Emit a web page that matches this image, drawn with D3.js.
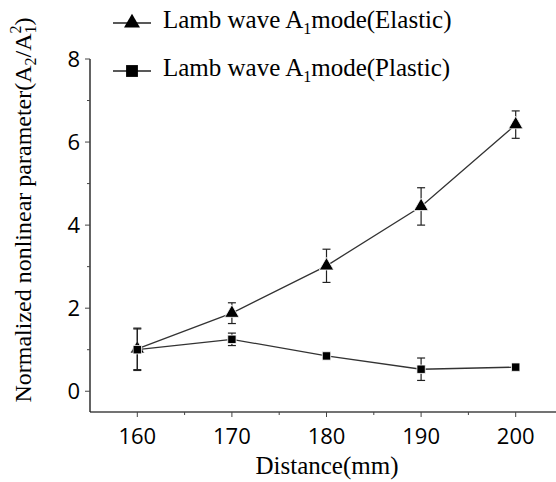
<!DOCTYPE html>
<html>
<head>
<meta charset="utf-8">
<script src="https://cdn.jsdelivr.net/npm/d3@7"></script>
<style>
  body { margin: 0; background: #fff; }
  svg { display: block; }
</style>
</head>
<body>
<svg id="vis" width="556" height="482"></svg>
<script>
const distances = [160, 170, 180, 190, 200];
const elastic = [1.02, 1.88, 3.02, 4.45, 6.42];
const elasticErr = [0.5, 0.25, 0.4, 0.45, 0.33];
const plastic = [1.0, 1.25, 0.85, 0.53, 0.58];
const plasticErr = [0.5, 0.15, 0.05, 0.27, 0.08];
const yTicks = [0, 2, 4, 6, 8];
const xTicks = [160, 170, 180, 190, 200];

const svg = d3.select('#vis');
const serif = '"Liberation Serif", "Times New Roman", serif';
const sans = '"Open Sans", "Liberation Sans", sans-serif';

const x = d3.scaleLinear().domain([155, 205]).range([90, 563]);
const y = d3.scaleLinear().domain([-0.5, 8]).range([412, 59]);

// axes
const xAxis = svg.append('g').attr('transform', 'translate(0,412)');
xAxis.append('line').attr('x1', 90).attr('x2', 556).attr('stroke', '#444').attr('stroke-width', 1.5);
xAxis.selectAll('.minor').data([165, 175, 185, 195]).enter().append('line')
    .attr('x1', d => x(d)).attr('x2', d => x(d)).attr('y1', 0).attr('y2', 3)
    .attr('stroke', '#444');
xAxis.selectAll('.major').data(xTicks).enter().append('line')
    .attr('x1', d => x(d)).attr('x2', d => x(d)).attr('y1', 0).attr('y2', 5)
    .attr('stroke', '#444');
xAxis.selectAll('text').data(xTicks).enter().append('text')
    .attr('x', d => x(d)).attr('y', 32)
    .attr('text-anchor', 'middle')
    .attr('font-family', sans).attr('font-size', 22)
    .text(d => d);

const yAxis = svg.append('g').attr('transform', 'translate(90,0)');
yAxis.append('line').attr('y1', 59).attr('y2', 412).attr('stroke', '#222').attr('stroke-width', 1.4);
yAxis.selectAll('.minor').data([1, 3, 5, 7]).enter().append('line')
    .attr('y1', d => y(d)).attr('y2', d => y(d)).attr('x1', 0).attr('x2', -3)
    .attr('stroke', '#444');
yAxis.selectAll('.major').data(yTicks).enter().append('line')
    .attr('y1', d => y(d)).attr('y2', d => y(d)).attr('x1', 0).attr('x2', -5)
    .attr('stroke', '#444');
yAxis.selectAll('text').data(yTicks).enter().append('text')
    .attr('x', -10).attr('y', d => y(d) + 8)
    .attr('text-anchor', 'end')
    .attr('font-family', sans).attr('font-size', 22)
    .text(d => d);

// axis titles
svg.append('text')
    .attr('x', 327).attr('y', 474)
    .attr('text-anchor', 'middle')
    .attr('font-family', serif).attr('font-size', 25)
    .text('Distance(mm)');

const yTitle = svg.append('text')
    .attr('transform', 'translate(31,210) rotate(-90)')
    .attr('text-anchor', 'middle')
    .attr('font-family', serif).attr('font-size', 24);
yTitle.append('tspan').text('Normalized nonlinear parameter(A');
yTitle.append('tspan').attr('font-size', 16).attr('dy', 5).text('2');
yTitle.append('tspan').attr('dy', -5).text('/A');
yTitle.append('tspan').attr('font-size', 16).attr('dy', -10).text('2');
yTitle.append('tspan').attr('font-size', 16).attr('dx', -8).attr('dy', 15).text('1');
yTitle.append('tspan').attr('dy', -5).text(')');

// series
const series = [
    {name: 'Elastic', vals: elastic, err: elasticErr, shape: d3.symbolTriangle},
    {name: 'Plastic', vals: plastic, err: plasticErr, shape: d3.symbolSquare}
];

const line = d3.line()
    .x(d => x(d.x))
    .y(d => y(d.v));

series.forEach(function (s) {
    const pts = distances.map((d, i) => ({x: d, v: s.vals[i], e: s.err[i]}));
    const g = svg.append('g');

    g.append('path')
        .datum(pts)
        .attr('d', line)
        .attr('fill', 'none')
        .attr('stroke', '#333')
        .attr('stroke-width', 1.3);

    const eb = g.selectAll('.err').data(pts).enter().append('g');
    eb.append('line')
        .attr('x1', d => x(d.x)).attr('x2', d => x(d.x))
        .attr('y1', d => y(d.v + d.e)).attr('y2', d => y(d.v - d.e))
        .attr('stroke', '#222').attr('stroke-width', 1.2);
    eb.append('line')
        .attr('x1', d => x(d.x) - 4).attr('x2', d => x(d.x) + 4)
        .attr('y1', d => y(d.v + d.e)).attr('y2', d => y(d.v + d.e))
        .attr('stroke', '#222').attr('stroke-width', 1.2);
    eb.append('line')
        .attr('x1', d => x(d.x) - 4).attr('x2', d => x(d.x) + 4)
        .attr('y1', d => y(d.v - d.e)).attr('y2', d => y(d.v - d.e))
        .attr('stroke', '#222').attr('stroke-width', 1.2);

    g.selectAll('.pt').data(pts).enter().append('path')
        .attr('d', d3.symbol().type(s.shape).size(s.shape === d3.symbolTriangle ? 90 : 70))
        .attr('transform', d => 'translate(' + x(d.x) + ',' + y(d.v) + ')')
        .attr('fill', '#000')
        .attr('stroke', '#fff').attr('stroke-width', 0.8);
});

// legend
const legend = svg.selectAll('.legend').data(series).enter().append('g')
    .attr('transform', (d, i) => 'translate(113,' + (23 + i * 48) + ')');
legend.append('line').attr('x1', 0).attr('x2', 38)
    .attr('stroke', '#222').attr('stroke-width', 1.3);
legend.append('path')
    .attr('d', d => d3.symbol().type(d.shape).size(d.shape === d3.symbolTriangle ? 110 : 140)())
    .attr('transform', 'translate(19,0)')
    .attr('fill', '#000');
const lt = legend.append('text')
    .attr('x', 50).attr('y', 5)
    .attr('font-family', serif).attr('font-size', 25);
lt.append('tspan').text('Lamb wave A');
lt.append('tspan').attr('font-size', 16).attr('dy', 6).text('1');
lt.append('tspan').attr('dy', -6).text(d => 'mode(' + d.name + ')');
</script>
</body>
</html>
